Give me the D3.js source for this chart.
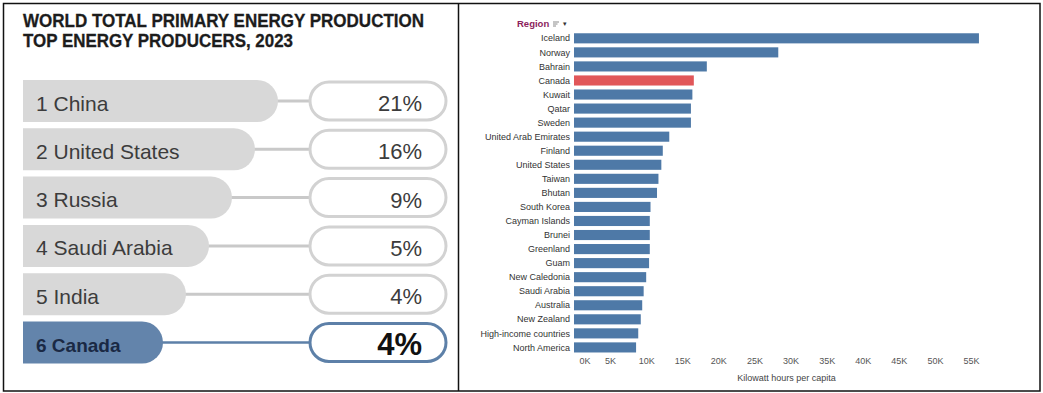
<!DOCTYPE html>
<html><head><meta charset="utf-8">
<script src="https://cdn.jsdelivr.net/npm/d3@7"></script>
<style>html,body{margin:0;padding:0;background:#fff}svg{display:block}</style>
</head><body>
<svg id="c" width="1043" height="393"></svg>
<script>
// ---------- data ----------
const titleLines = ["WORLD TOTAL PRIMARY ENERGY PRODUCTION", "TOP ENERGY PRODUCERS, 2023"];
const producerRanks = [1, 2, 3, 4, 5, 6];
const producerNames = ["China", "United States", "Russia", "Saudi Arabia", "India", "Canada"];
const producerShares = [21, 16, 9, 5, 4, 4];
const highlightProducer = "Canada";

const regions = ["Iceland", "Norway", "Bahrain", "Canada", "Kuwait", "Qatar", "Sweden",
  "United Arab Emirates", "Finland", "United States", "Taiwan", "Bhutan", "South Korea",
  "Cayman Islands", "Brunei", "Greenland", "Guam", "New Caledonia", "Saudi Arabia",
  "Australia", "New Zealand", "High-income countries", "North America"];
const kwhPerCapita = [56100, 28300, 18400, 16600, 16400, 16200, 16200,
  13200, 12300, 12100, 11700, 11500, 10600,
  10500, 10500, 10500, 10400, 10000, 9650,
  9450, 9250, 8900, 8600];
const highlightRegion = "Canada";
const xTickValues = [0, 5000, 10000, 15000, 20000, 25000, 30000, 35000, 40000, 45000, 50000, 55000];
const xAxisTitle = "Kilowatt hours per capita";
const headerLabel = "Region";

// ---------- layout ----------
const svg = d3.select("#c");
const FONT = "'Liberation Sans', Arial, Helvetica, sans-serif";

// frame
svg.append("rect").attr("x", 3.5).attr("y", 3.5).attr("width", 1036.5).attr("height", 387.5)
  .attr("fill", "none").attr("stroke", "#111").attr("stroke-width", 1.5);
svg.append("line").attr("x1", 458.5).attr("x2", 458.5).attr("y1", 3.5).attr("y2", 391)
  .attr("stroke", "#111").attr("stroke-width", 1.5);

// ---------- left panel ----------
const left = svg.append("g");
left.selectAll("text.title").data(titleLines).join("text")
  .attr("class", "title")
  .attr("x", 23).attr("y", (d, i) => 26.5 + i * 20)
  .attr("font-family", FONT).attr("font-weight", "bold").attr("font-size", 18)
  .attr("fill", "#1c1c1c")
  .attr("stroke", "#1c1c1c").attr("stroke-width", 0.3)
  .attr("textLength", (d, i) => i === 0 ? 401 : 270)
  .attr("lengthAdjust", "spacingAndGlyphs")
  .text(d => d);

const rowTop = d3.scaleLinear().domain([1, 6]).range([80, 321.5]);
const pillEnd = d3.scaleLinear().domain([1, 6]).range([278, 163]);
const rowH = 42, pillX = 23, ovalX = 310, ovalW = 136, ovalH = 38;

const rows = producerRanks.map((r, i) => ({ rank: r, name: producerNames[i], share: producerShares[i], hi: producerNames[i] === highlightProducer }));

const rg = left.selectAll("g.row").data(rows).join("g").attr("class", "row")
  .attr("transform", d => `translate(0,${rowTop(d.rank)})`);

// connector
rg.append("line")
  .attr("x1", d => pillEnd(d.rank) - 2).attr("x2", ovalX + 2)
  .attr("y1", rowH / 2).attr("y2", rowH / 2)
  .attr("stroke", d => d.hi ? "#5d80a8" : "#c9c9c9")
  .attr("stroke-width", d => d.hi ? 2.5 : 3);

// pill
rg.append("path")
  .attr("d", d => {
    const xe = pillEnd(d.rank), r = rowH / 2;
    return `M${pillX},0 H${xe - r} A${r},${r} 0 0 1 ${xe - r},${rowH} H${pillX} Z`;
  })
  .attr("fill", d => d.hi ? "#6384ab" : "#d8d8d8");

rg.append("text")
  .attr("x", 36).attr("y", d => d.hi ? 30 : 30.5)
  .attr("font-family", FONT)
  .attr("font-size", d => d.hi ? 19 : 21)
  .attr("font-weight", d => d.hi ? "900" : "normal")
  .attr("fill", d => d.hi ? "#1a2944" : "#3c3c3c")
  .text(d => `${d.rank} ${d.name}`);

// value oval
rg.append("rect")
  .attr("x", ovalX).attr("y", (rowH - ovalH) / 2)
  .attr("width", ovalW).attr("height", ovalH)
  .attr("rx", ovalH / 2).attr("ry", ovalH / 2)
  .attr("fill", "#fff")
  .attr("stroke", d => d.hi ? "#5d80a8" : "#d2d2d2")
  .attr("stroke-width", 3);

rg.append("text")
  .attr("x", 422).attr("y", d => d.hi ? 33.5 : 31)
  .attr("text-anchor", "end")
  .attr("font-family", FONT)
  .attr("font-size", d => d.hi ? 31 : 22)
  .attr("font-weight", d => d.hi ? "bold" : "normal")
  .attr("fill", d => d.hi ? "#111" : "#3c3c3c")
  .text(d => `${d.share}%`);

// ---------- right panel ----------
const right = svg.append("g");
const x = d3.scaleLinear().domain([0, 55000]).range([574, 971]);
const y = d3.scaleBand().domain(regions).range([31.3, 31.3 + 23 * 14.05]).paddingInner(0.28).paddingOuter(0.14);

right.selectAll("rect.bar").data(regions).join("rect")
  .attr("class", "bar")
  .attr("x", x(0))
  .attr("y", d => y(d))
  .attr("width", (d, i) => x(kwhPerCapita[i]) - x(0))
  .attr("height", y.bandwidth())
  .attr("fill", d => d === highlightRegion ? "#e15759" : "#4e79a7");

right.selectAll("text.lab").data(regions).join("text")
  .attr("class", "lab")
  .attr("x", 570).attr("y", d => y(d) + y.bandwidth() / 2)
  .attr("dy", "0.35em").attr("text-anchor", "end")
  .attr("font-family", FONT).attr("font-size", 9).attr("fill", "#333")
  .text(d => d);

// header
right.append("text").attr("x", 517).attr("y", 27)
  .attr("font-family", FONT).attr("font-size", 9.5).attr("font-weight", "bold")
  .attr("fill", "#8c1d5c").text(headerLabel);
const icon = right.append("g").attr("transform", "translate(553,21.5)").attr("stroke", "#8a8a8a").attr("stroke-width", 1);
[6, 4.5, 3].forEach((w, i) => icon.append("line").attr("x1", 0).attr("x2", w).attr("y1", i * 2 + 0.5).attr("y2", i * 2 + 0.5));
right.append("text").attr("x", 563).attr("y", 25.5)
  .attr("font-family", FONT).attr("font-size", 7).attr("fill", "#333").text("▾");

// x axis
const axis = d3.axisBottom(x).tickValues(xTickValues).tickSize(0).tickPadding(0)
  .tickFormat(d => `${d / 1000}K`);
const ag = right.append("g").attr("transform", "translate(0,358)").call(axis);
ag.select(".domain").remove();
ag.selectAll("text")
  .attr("font-family", FONT).attr("font-size", 9).attr("fill", "#555")
  .attr("dy", "0.71em")
  .attr("text-anchor", d => d === 0 ? "start" : "middle")
  .attr("dx", d => d === 0 ? 5 : 0);

right.append("text").attr("x", 786.5).attr("y", 381)
  .attr("text-anchor", "middle").attr("font-family", FONT).attr("font-size", 9)
  .attr("fill", "#444").text(xAxisTitle);
</script></body></html>
